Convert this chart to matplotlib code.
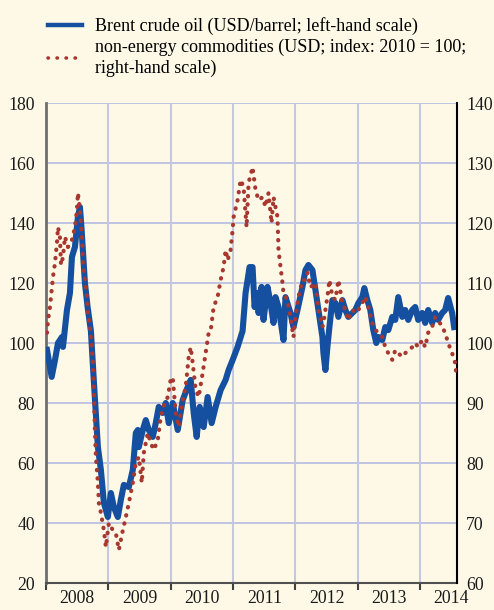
import matplotlib
matplotlib.use("Agg")
import matplotlib.pyplot as plt
from matplotlib.lines import Line2D

# ---- data (decimal years) ----
brent_t = [2008.016, 2008.091, 2008.144, 2008.192, 2008.256, 2008.272, 2008.336, 2008.384,
           2008.416, 2008.464, 2008.512, 2008.544, 2008.571, 2008.624, 2008.667, 2008.720,
           2008.768, 2008.832, 2008.880, 2008.928, 2008.992, 2009.040, 2009.088, 2009.152,
           2009.200, 2009.248, 2009.328, 2009.392, 2009.440, 2009.472, 2009.488, 2009.552,
           2009.600, 2009.648, 2009.712, 2009.760, 2009.808, 2009.872, 2009.920, 2009.968,
           2010.032, 2010.112, 2010.192, 2010.272, 2010.320, 2010.368, 2010.416, 2010.464,
           2010.528, 2010.592, 2010.656, 2010.720, 2010.800, 2010.880, 2010.928, 2010.992,
           2011.072, 2011.152, 2011.200, 2011.264, 2011.312, 2011.344, 2011.392, 2011.408,
           2011.456, 2011.488, 2011.552, 2011.600, 2011.648, 2011.680, 2011.728, 2011.776,
           2011.808, 2011.840, 2011.920, 2011.968, 2012.032, 2012.112, 2012.160, 2012.208,
           2012.272, 2012.320, 2012.368, 2012.432, 2012.448, 2012.480, 2012.512, 2012.544,
           2012.592, 2012.640, 2012.688, 2012.752, 2012.800, 2012.848, 2012.912, 2012.960,
           2013.008, 2013.072, 2013.104, 2013.152, 2013.200, 2013.248, 2013.296, 2013.328,
           2013.392, 2013.440, 2013.488, 2013.552, 2013.600, 2013.648, 2013.712, 2013.760,
           2013.808, 2013.872, 2013.920, 2013.968, 2014.032, 2014.080, 2014.128, 2014.192,
           2014.240, 2014.288, 2014.352, 2014.400, 2014.448, 2014.512, 2014.544]
brent_v = [97.7, 88.7, 94.3, 100.0, 102.0, 98.7, 111.0, 116.7,
           128.7, 132.0, 142.0, 145.3, 137.7, 120.0, 112.0, 104.0,
           87.0, 65.3, 57.7, 46.7, 42.0, 50.0, 45.3, 42.0,
           47.7, 52.7, 52.0, 57.7, 70.0, 71.0, 65.3, 71.0,
           74.3, 71.0, 68.7, 73.3, 78.7, 76.7, 80.0, 73.3,
           80.0, 71.0, 81.0, 85.3, 87.7, 76.7, 68.7, 78.7,
           72.0, 82.0, 73.3, 78.7, 84.3, 87.7, 91.0, 94.3,
           98.7, 104.0, 116.7, 125.3, 125.3, 112.0, 116.7, 110.0,
           118.7, 107.7, 118.7, 113.3, 106.7, 115.3, 112.0, 105.3,
           101.0, 115.3, 110.0, 105.3, 111.0, 118.7, 124.3, 126.0,
           124.3, 117.7, 111.0, 102.0, 96.7, 91.0, 98.7, 105.3,
           114.3, 113.3, 108.7, 114.3, 111.0, 108.7, 110.0, 111.0,
           113.3, 115.3, 118.3, 114.3, 111.0, 104.3, 100.0, 102.0,
           101.0, 105.3, 104.3, 108.7, 107.7, 115.3, 108.7, 111.0,
           107.7, 111.0, 112.0, 107.7, 110.0, 106.7, 111.0, 106.7,
           110.0, 107.7, 110.0, 111.0, 115.0, 110.0, 105.3]

nonen_t = [2008.016, 2008.032, 2008.064, 2008.096, 2008.112, 2008.144, 2008.176, 2008.192,
           2008.224, 2008.240, 2008.272, 2008.304, 2008.352, 2008.416, 2008.464, 2008.496,
           2008.512, 2008.544, 2008.576, 2008.592, 2008.624, 2008.656, 2008.672, 2008.704,
           2008.736, 2008.752, 2008.768, 2008.784, 2008.800, 2008.832, 2008.848, 2008.880,
           2008.928, 2008.960, 2009.008, 2009.072, 2009.120, 2009.168, 2009.232, 2009.280,
           2009.328, 2009.392, 2009.440, 2009.488, 2009.536, 2009.568, 2009.632, 2009.680,
           2009.728, 2009.792, 2009.840, 2009.888, 2009.952, 2010.000, 2010.032, 2010.080,
           2010.128, 2010.192, 2010.240, 2010.288, 2010.320, 2010.352, 2010.400, 2010.448,
           2010.512, 2010.560, 2010.608, 2010.640, 2010.688, 2010.752, 2010.800, 2010.848,
           2010.880, 2010.912, 2010.960, 2010.992, 2011.008, 2011.072, 2011.120, 2011.168,
           2011.216, 2011.248, 2011.312, 2011.360, 2011.408, 2011.472, 2011.520, 2011.568,
           2011.616, 2011.648, 2011.712, 2011.728, 2011.760, 2011.792, 2011.808, 2011.872,
           2011.920, 2011.968, 2012.000, 2012.048, 2012.112, 2012.160, 2012.192, 2012.240,
           2012.320, 2012.368, 2012.432, 2012.448, 2012.512, 2012.544, 2012.592, 2012.640,
           2012.688, 2012.752, 2012.800, 2012.848, 2012.912, 2012.960, 2013.008, 2013.072,
           2013.120, 2013.168, 2013.232, 2013.280, 2013.328, 2013.392, 2013.440, 2013.488,
           2013.552, 2013.600, 2013.648, 2013.712, 2013.760, 2013.808, 2013.872, 2013.920,
           2013.968, 2014.032, 2014.080, 2014.128, 2014.192, 2014.240, 2014.288, 2014.352,
           2014.400, 2014.448, 2014.512, 2014.560, 2014.576]
nonen_v = [101.7, 103.8, 106.0, 109.3, 111.0, 113.3, 116.7, 119.3,
           117.7, 113.0, 114.3, 117.7, 116.0, 117.2, 119.3, 122.2,
           125.0, 122.2, 117.7, 113.3, 110.5, 107.7, 105.0, 102.7,
           99.3, 96.5, 91.7, 85.5, 81.0, 76.7, 73.3, 71.7,
           68.8, 66.0, 70.0, 68.8, 68.3, 65.5, 68.8, 71.0,
           73.3, 76.7, 80.0, 81.0, 76.7, 81.7, 85.0, 83.3,
           82.2, 83.8, 87.7, 89.5, 91.0, 94.0, 94.3, 88.3,
           86.0, 90.5, 92.7, 97.7, 99.3, 96.7, 92.2, 91.0,
           95.0, 98.3, 101.7, 102.0, 106.0, 107.7, 110.5, 112.7,
           115.5, 113.8, 115.5, 118.8, 121.0, 123.8, 127.2, 126.0,
           119.3, 126.7, 129.3, 125.5, 123.8, 124.3, 122.7, 125.0,
           120.0, 124.3, 121.0, 115.5, 112.7, 110.0, 108.3, 107.2,
           104.3, 101.0, 104.3, 107.7, 110.5, 110.5, 111.7, 109.3,
           110.0, 105.5, 102.7, 103.3, 107.7, 110.5, 107.7, 107.2,
           110.5, 106.7, 105.5, 103.8, 105.5, 105.0, 105.5, 106.7,
           107.7, 106.0, 103.3, 102.2, 101.7, 101.0, 99.3, 98.3,
           97.2, 98.8, 98.3, 97.7, 98.3, 98.8, 99.3, 100.0,
           99.3, 100.5, 99.3, 101.7, 102.7, 104.3, 103.8, 102.7,
           101.7, 100.0, 98.3, 96.7, 95.0]

years = [2008, 2009, 2010, 2011, 2012, 2013, 2014]
year_labels = ["2008", "2009", "2010", "2011", "2012", "2013", "2014"]
left_ticks = [20, 40, 60, 80, 100, 120, 140, 160, 180]
right_ticks = [60, 70, 80, 90, 100, 110, 120, 130, 140]

# ---- style ----
BG = "#FEF9E7"
BLUE = "#1550A0"
RED = "#A8382F"
GRID = "#AEB6E0"
plt.rcParams['font.family'] = ['Liberation Serif', 'DejaVu Serif']
FS = 12.8

fig = plt.figure(figsize=(4.94, 6.10), dpi=100, facecolor=BG)
W, H = 494, 610
ax = fig.add_axes([46 / W, (H - 583) / H, (457 - 46) / W, (583 - 103) / H])
ax.set_facecolor(BG)
ax2 = ax.twinx()

ax.set_xlim(2008.0, 2014.59)
ax.set_ylim(20, 180)
ax2.set_ylim(60, 140)

# grid
for yv in left_ticks[1:]:
    ax.axhline(yv, color=GRID, lw=1.1, zorder=0)
for xv in years[1:]:
    ax.axvline(xv, color="#C4C9E0", lw=1.5, zorder=0)

ax.plot(brent_t, brent_v, color=BLUE, lw=4.4, solid_joinstyle='round', zorder=3)
ax2.plot(nonen_t, nonen_v, color=RED, lw=3.0, linestyle=(0, (0.1, 1.9)),
         dash_capstyle='round', zorder=4)
ax2.set_zorder(ax.get_zorder() + 1)
ax2.patch.set_visible(False)

# axes / ticks
ax.set_yticks(left_ticks)
ax.set_yticklabels([str(v) for v in left_ticks])
ax2.set_yticks(right_ticks)
ax2.set_yticklabels([str(v) for v in right_ticks])
ax.tick_params(axis='y', length=0, pad=8, labelsize=FS, colors="#1a1a1a")
ax2.tick_params(axis='y', length=0, pad=6.5, labelsize=FS, colors="#1a1a1a")

ax.set_xticks(years)
ax.set_xticklabels([""] * len(years))
ax.set_xticks([y + 0.5 for y in years], minor=True)
ax.set_xticklabels(year_labels, minor=True)
ax.tick_params(axis='x', which='major', direction='out', length=5, width=1.5, color="#404040")
ax.tick_params(axis='x', which='minor', length=0, pad=5, labelsize=FS, labelcolor="#1a1a1a")

for a in (ax, ax2):
    for s in a.spines.values():
        s.set_visible(False)
ax.spines['left'].set_visible(True)
ax.spines['left'].set_color("#6E6E6E")
ax.spines['left'].set_linewidth(2.0)
ax.spines['bottom'].set_visible(True)
ax.spines['bottom'].set_color("#505050")
ax.spines['bottom'].set_linewidth(1.5)
ax2.spines['right'].set_visible(True)
ax2.spines['right'].set_color("#000000")
ax2.spines['right'].set_linewidth(1.5)

# legend
handles = [Line2D([], [], color=BLUE, lw=3.2),
           Line2D([], [], color=RED, lw=2.6, linestyle=(0, (0.1, 2.4)), dash_capstyle='round')]
labels = ["Brent crude oil (USD/barrel; left-hand scale)",
          "non-energy commodities (USD; index: 2010 = 100;\nright-hand scale)"]
leg = fig.legend(handles, labels, loc='upper left', bbox_to_anchor=(41 / W, 1 - 10 / H),
                 frameon=False, handlelength=1.85, handletextpad=0.75, labelspacing=0.2,
                 prop={'size': 13}, borderaxespad=0)
for t in leg.get_texts():
    t.set_linespacing(1.3)

fig.savefig("out.png", dpi=100, facecolor=BG)
